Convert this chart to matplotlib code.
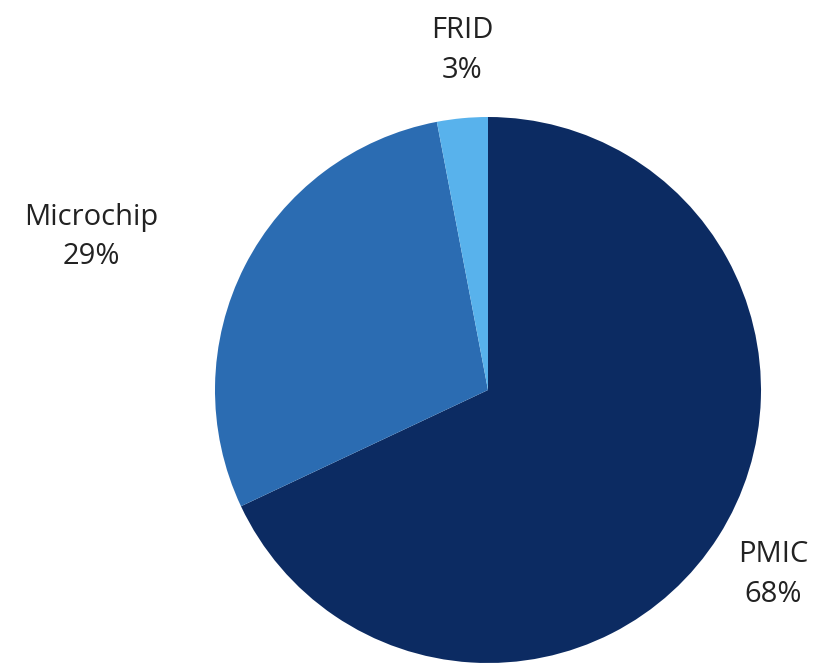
import matplotlib.pyplot as plt

labels = ["PMIC", "Microchip", "FRID"]
shares = [68, 29, 3]
colors = ["#0c2b62", "#2b6cb2", "#58b2ec"]

# label centres in pixel space (x, y from top)
label_pos = [(773, 574), (91, 237), (462, 50)]

W, H = 826, 663
fig = plt.figure(figsize=(W / 100, H / 100), dpi=100)
ax = fig.add_axes([0, 0, 1, 1])

ax.pie(shares, colors=colors, startangle=90, counterclock=False,
       center=(488, H - 390), radius=273,
       wedgeprops=dict(linewidth=0), frame=True)
ax.set_xlim(0, W)
ax.set_ylim(0, H)
ax.set_aspect("equal")
ax.axis("off")

for lab, val, (x, y) in zip(labels, shares, label_pos):
    ax.text(x, H - y, f"{lab}\n{val}%", ha="center", va="center",
            fontsize=21, color="#222222", family="Open Sans",
            linespacing=1.5)

fig.savefig("out.png", dpi=100, facecolor="white")
